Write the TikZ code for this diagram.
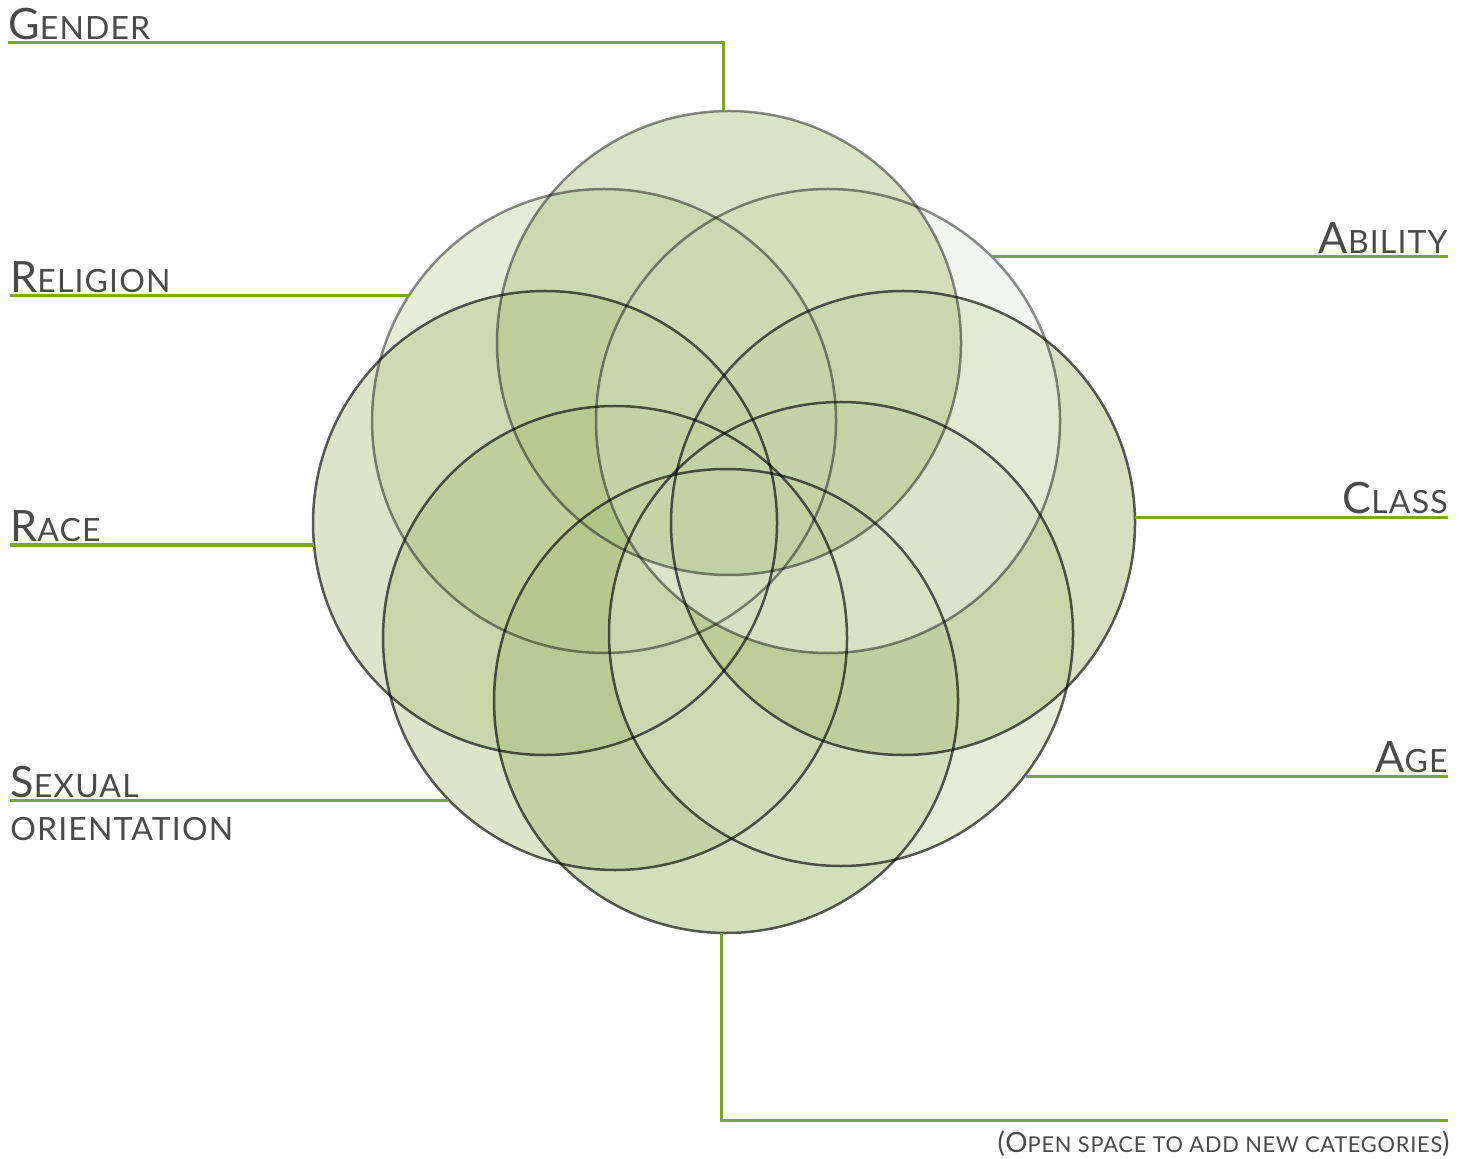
\documentclass[tikz,border=0pt]{standalone}
\usepackage{fontspec}
\setmainfont[LetterSpace=3.5]{Lato}
\definecolor{lbl}{RGB}{74,74,74}
\definecolor{gline}{RGB}{122,166,42}
\definecolor{cg}{RGB}{171,193,129}
\definecolor{cage}{RGB}{213,224,192}
\definecolor{cab}{RGB}{234,240,225}
\newcommand\BigL{\fontsize{21.6pt}{24pt}\selectfont}
\newcommand\SmL{\fontsize{16pt}{18pt}\selectfont}
\newcommand\sclab[2]{{\BigL #1}{\SmL #2}}
\begin{document}
\begin{tikzpicture}[x=0.5pt,y=-0.5pt,
  ring/.style={circle, minimum size=232pt, inner sep=0pt, outer sep=0pt},
  softline/.style={draw=black, draw opacity=0.45, line width=1.25pt},
  hardline/.style={draw=black, draw opacity=0.64, line width=1.25pt},
  link/.style={draw=gline, line width=1.5pt},
  lbl/.style={anchor=base west, inner sep=0pt, text=lbl},
  lblr/.style={anchor=base east, inner sep=0pt, text=lbl}]
\useasboundingbox (0,0) rectangle (1470,1159);
% circle fills
\node[ring, fill=cg, fill opacity=0.53] (bot) at (726,701) {};
\node[ring, fill=cg, fill opacity=0.42] (sex) at (615,638) {};
\node[ring, fill=cg, fill opacity=0.42] (race) at (545,523) {};
\node[ring, fill=cg, fill opacity=0.31] (rel) at (604,421) {};
\node[ring, fill=cage, fill opacity=0.62] (age) at (841,634) {};
\node[ring, fill=cg, fill opacity=0.5] (cls) at (903,523) {};
\node[ring, fill=cab, fill opacity=0.57] (abl) at (828,421) {};
\node[ring, fill=cg, fill opacity=0.45] (gen) at (729,343) {};
% circle outlines
\draw[hardline] (bot.center) circle[radius=116pt];
\draw[hardline] (sex.center) circle[radius=116pt];
\draw[hardline] (age.center) circle[radius=116pt];
\draw[hardline] (cls.center) circle[radius=116pt];
\draw[softline] (abl.center) circle[radius=116pt];
\draw[softline] (rel.center) circle[radius=116pt];
\draw[softline] (gen.center) circle[radius=116pt];
\draw[hardline] (race.center) circle[radius=116pt];
% line ends
\coordinate (gL) at (8,43);
\coordinate (gC) at (723,43);
\coordinate (rL) at (10,296);
\coordinate (raL) at (10,545);
\coordinate (sL) at (10,800);
\coordinate (aR) at (1448,257);
\coordinate (cR) at (1448,518);
\coordinate (agR) at (1448,776);
\coordinate (oB) at (721,1120);
\coordinate (oR) at (1448,1120);
% connectors
\draw[link] (gL) -- (gC) -- (gC |- gen.north);
\draw[link] (rL) -- (rL -| rel.147.4);
\draw[link] (raL) -- (raL -| race.185.4);
\draw[link] (sL) -- (sL -| sex.224.3);
\draw[link] (aR -| abl.45) -- (aR);
\draw[link] (cR -| cls.1.2) -- (cR);
\draw[link] (agR -| age.-37.7) -- (agR);
\draw[link] (oB |- bot.south) -- (oB) -- (oR);
% labels
\node[lbl] (tg) at (8,40) {\sclab{G}{ENDER}};
\node[lbl] (tr) at (10,293) {\sclab{R}{ELIGION}};
\node[lbl] (tra) at (10,541) {\sclab{R}{ACE}};
\node[lbl] (ts) at (10,797) {\sclab{S}{EXUAL}};
\node[lbl] (to) at (10,840) {\SmL ORIENTATION};
\node[lblr] (ta) at (1448,254) {\sclab{A}{BILITY}};
\node[lblr] (tc) at (1448,514) {\sclab{C}{LASS}};
\node[lblr] (tag) at (1448,772) {\sclab{A}{GE}};
\node[lblr] (tn) at (1450,1152) {\fontsize{13.9pt}{15pt}\selectfont (O{\fontsize{10.9pt}{12pt}\selectfont PEN SPACE TO ADD NEW CATEGORIES})};
\end{tikzpicture}
\end{document}
